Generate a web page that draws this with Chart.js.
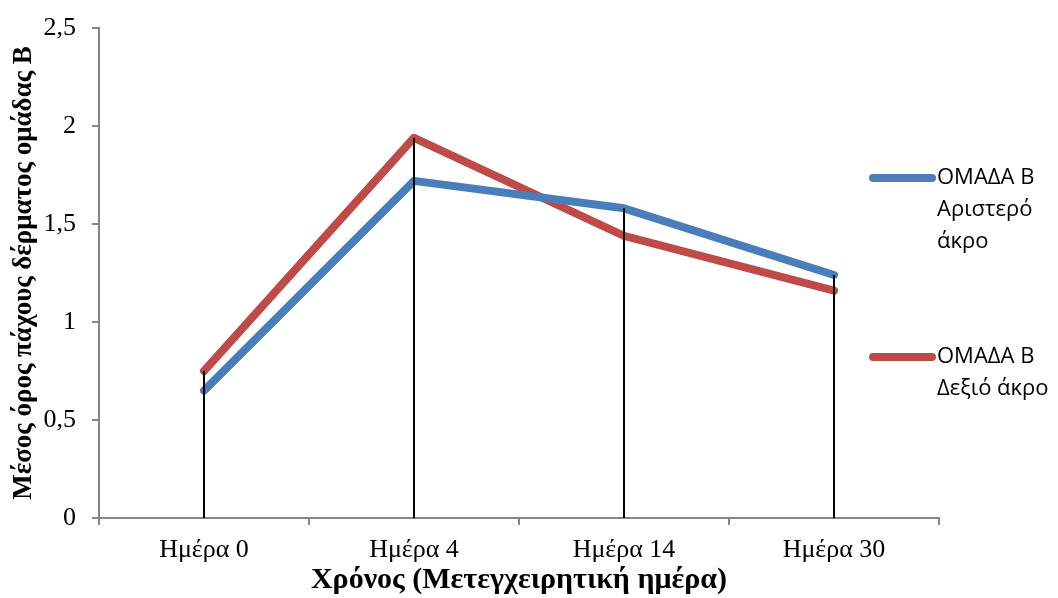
<!DOCTYPE html>
<html>
<head>
<meta charset="utf-8">
<script src="https://cdn.jsdelivr.net/npm/chart.js@4.4.1/dist/chart.umd.min.js"></script>
<style>
    html, body { margin: 0; padding: 0; background: #ffffff; }
    #wrap { width: 1058px; height: 598px; }
</style>
</head>
<body>
<div id="wrap"><canvas id="chart" width="1058" height="598"></canvas></div>
<script>
// Mean skin thickness, group B, by post-operative day
const categories = ['Ημέρα 0', 'Ημέρα 4', 'Ημέρα 14', 'Ημέρα 30'];
const leftLimb = [0.65, 1.72, 1.58, 1.24];
const rightLimb = [0.75, 1.94, 1.44, 1.16];
const seriesLabels = [
    ['ΟΜΑΔΑ Β', 'Αριστερό', 'άκρο'],
    ['ΟΜΑΔΑ Β', 'Δεξιό άκρο']
];
const yTicks = [0, 0.5, 1, 1.5, 2, 2.5];
const xTitle = 'Χρόνος (Μετεγχειρητική ημέρα)';
const yTitle = 'Μέσος όρος πάχους δέρματος ομάδας Β';

const serif = "'Liberation Serif', 'DejaVu Serif', serif";
const sans = "'Open Sans', 'Noto Sans', sans-serif";

// black drop lines from the highest point of each category down to zero
const dropLines = {
    id: 'dropLines',
    afterDatasetsDraw(chart) {
        const { ctx, scales } = chart;
        const x = scales.x, y = scales.y;
        ctx.save();
        ctx.strokeStyle = '#000000';
        ctx.lineWidth = 2;
        categories.forEach((c, i) => {
            const top = Math.max(...chart.data.datasets.map(ds => ds.data[i]));
            const px = Math.round(x.getPixelForValue(i));
            ctx.beginPath();
            ctx.moveTo(px, y.getPixelForValue(top));
            ctx.lineTo(px, y.getPixelForValue(0));
            ctx.stroke();
        });
        ctx.restore();
    }
};

// legend on the right with wrapped labels
const sideLegend = {
    id: 'sideLegend',
    afterDraw(chart, args, opts) {
        const { ctx } = chart;
        ctx.save();
        chart.data.datasets.forEach((ds, i) => {
            const top = opts.rows[i];
            ctx.strokeStyle = ds.borderColor;
            ctx.lineWidth = 8;
            ctx.lineCap = 'round';
            ctx.beginPath();
            ctx.moveTo(opts.x, top);
            ctx.lineTo(opts.x + opts.sample, top);
            ctx.stroke();
            ctx.fillStyle = '#000000';
            ctx.font = opts.font;
            ctx.textBaseline = 'middle';
            ctx.textAlign = 'left';
            seriesLabels[i].forEach((line, j) => {
                ctx.fillText(line, opts.x + opts.sample + 5, top + j * opts.lineHeight);
            });
        });
        ctx.restore();
    }
};

const ctx = document.getElementById('chart').getContext('2d');
new Chart(ctx, {
    type: 'line',
    data: {
        labels: categories,
        datasets: [{
            label: seriesLabels[0].join(' '),
            data: leftLimb,
            borderColor: '#4A7EBB',
            borderWidth: 8,
            borderCapStyle: 'round',
            borderJoinStyle: 'round',
            pointRadius: 0,
            tension: 0,
            fill: false
        }, {
            label: seriesLabels[1].join(' '),
            data: rightLimb,
            borderColor: '#BE4B48',
            borderWidth: 8,
            borderCapStyle: 'round',
            borderJoinStyle: 'round',
            pointRadius: 0,
            tension: 0,
            fill: false
        }]
    },
    options: {
        responsive: false,
        animation: false,
        layout: {
            padding: { top: 28, right: 119, bottom: 0, left: 8 }
        },
        plugins: {
            legend: { display: false },
            tooltip: { enabled: false },
            sideLegend: {
                x: 873,
                sample: 59,
                rows: [178, 357],
                lineHeight: 32,
                font: "22px " + sans
            }
        },
        scales: {
            x: {
                offset: true,
                afterFit(axis) { axis.height = 80; },
                border: { color: '#868686', width: 2 },
                grid: {
                    offset: true,
                    drawOnChartArea: false,
                    drawTicks: true,
                    tickLength: 7,
                    color: '#868686',
                    lineWidth: 2
                },
                ticks: {
                    color: '#000000',
                    font: { family: serif, size: 26 },
                    padding: 10,
                    maxRotation: 0
                },
                title: {
                    display: true,
                    text: xTitle,
                    color: '#000000',
                    font: { family: serif, size: 30, weight: 'bold' },
                    padding: { top: 0, bottom: 0 }
                }
            },
            y: {
                min: 0,
                max: 2.5,
                afterBuildTicks(axis) {
                    axis.ticks = yTicks.map(v => ({ value: v }));
                },
                afterFit(axis) {
                    axis.width = 91;
                    axis.paddingTop = 0;
                    axis.paddingBottom = 0;
                },
                border: { color: '#868686', width: 2 },
                grid: {
                    drawOnChartArea: false,
                    drawTicks: true,
                    tickLength: 7,
                    color: '#868686',
                    lineWidth: 2
                },
                ticks: {
                    color: '#000000',
                    font: { family: serif, size: 26 },
                    padding: 16,
                    callback: v => String(v).replace('.', ',')
                },
                title: {
                    display: true,
                    text: yTitle,
                    color: '#000000',
                    font: { family: serif, size: 27, weight: 'bold' },
                    padding: { top: 0, bottom: 2 }
                }
            }
        }
    },
    plugins: [dropLines, sideLegend]
});
</script>
</body>
</html>
